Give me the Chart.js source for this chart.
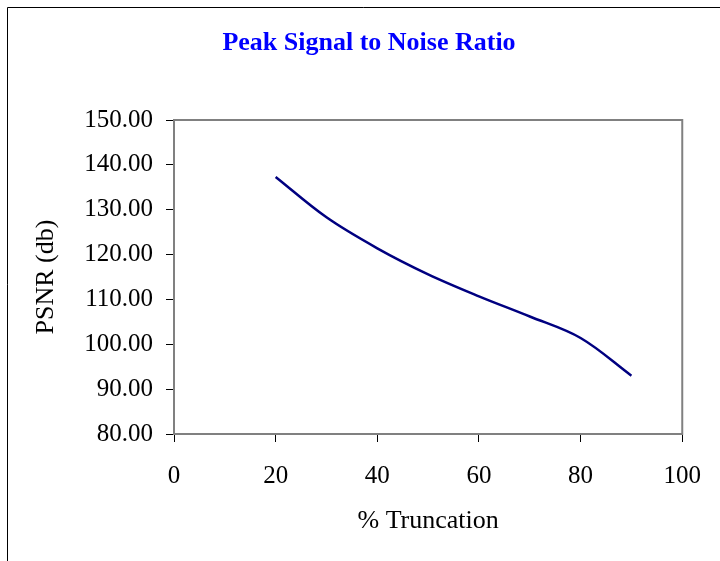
<!DOCTYPE html>
<html>
<head>
<meta charset="utf-8">
<title>Peak Signal to Noise Ratio</title>
<script src="https://cdn.jsdelivr.net/npm/chart.js@4"></script>
<style>
  html, body { margin: 0; padding: 0; background: #fff; }
  #wrap { position: relative; width: 720px; height: 561px; }
</style>
</head>
<body>
<div id="wrap"><canvas id="psnrChart" width="720" height="561"></canvas></div>
<script>
// truncation percentages and the measured PSNR at each
const truncation = [20, 30, 40, 50, 60, 70, 80, 90];
const psnr = [137.3, 128.3, 121.4, 115.6, 110.7, 106.2, 101.4, 93.0];

const xTicks = [0, 20, 40, 60, 80, 100];
const yTicks = [80, 90, 100, 110, 120, 130, 140, 150];

const serif = '"Liberation Serif", "Times New Roman", serif';

// outer frame, grey plot border and the blue heading
const decorations = {
    id: 'decorations',
    beforeDraw(chart) {
        const ctx = chart.ctx;
        ctx.save();
        ctx.strokeStyle = '#000';
        ctx.lineWidth = 1;
        ctx.beginPath();
        ctx.moveTo(7.5, 561);
        ctx.lineTo(7.5, 7.5);
        ctx.lineTo(720, 7.5);
        ctx.stroke();
        ctx.restore();
    },
    beforeDatasetsDraw(chart) {
        const {ctx, chartArea: a} = chart;
        ctx.save();
        ctx.strokeStyle = '#808080';
        ctx.lineWidth = 2;
        ctx.strokeRect(a.left, a.top, a.right - a.left, a.bottom - a.top);
        ctx.restore();
    },
    afterDraw(chart) {
        const ctx = chart.ctx;
        ctx.save();
        ctx.font = 'bold 26px ' + serif;
        ctx.fillStyle = '#0000FF';
        ctx.textAlign = 'center';
        ctx.textBaseline = 'alphabetic';
        ctx.fillText('Peak Signal to Noise Ratio', 369, 50);
        ctx.restore();
    }
};

const ctx = document.getElementById('psnrChart').getContext('2d');
new Chart(ctx, {
    type: 'line',
    data: {
        datasets: [{
            label: 'PSNR',
            data: truncation.map((t, i) => ({x: t, y: psnr[i]})),
            borderColor: '#000080',
            borderWidth: 2.5,
            pointRadius: 0,
            fill: false,
            tension: 0.35
        }]
    },
    options: {
        responsive: false,
        animation: false,
        layout: {
            padding: {left: 0, right: 36, top: 120, bottom: 0}
        },
        plugins: {
            legend: {display: false},
            tooltip: {enabled: false},
            title: {display: false}
        },
        scales: {
            x: {
                type: 'linear',
                min: 0,
                max: 100,
                afterBuildTicks: (scale) => { scale.ticks = xTicks.map(v => ({value: v})); },
                afterFit: (scale) => { scale.height = 127; },
                ticks: {
                    color: '#000',
                    padding: 19,
                    maxRotation: 0,
                    font: {family: serif, size: 25}
                },
                grid: {
                    display: true,
                    drawOnChartArea: false,
                    drawTicks: true,
                    tickLength: 8,
                    color: '#000',
                    lineWidth: 1
                },
                border: {display: true, color: '#000', width: 1},
                title: {
                    display: true,
                    text: '% Truncation',
                    color: '#000',
                    font: {family: serif, size: 26},
                    padding: {top: 0, bottom: 24}
                }
            },
            y: {
                type: 'linear',
                min: 80,
                max: 150,
                afterBuildTicks: (scale) => { scale.ticks = yTicks.map(v => ({value: v})); },
                afterFit: (scale) => { scale.width = 174; },
                ticks: {
                    color: '#000',
                    padding: 13,
                    font: {family: serif, size: 25},
                    callback: (v) => Number(v).toFixed(2)
                },
                grid: {
                    display: true,
                    drawOnChartArea: false,
                    drawTicks: true,
                    tickLength: 8,
                    color: '#000',
                    lineWidth: 1
                },
                border: {display: true, color: '#000', width: 1},
                title: {
                    display: true,
                    text: 'PSNR (db)',
                    color: '#000',
                    font: {family: serif, size: 26},
                    padding: {top: 31, bottom: 0}
                }
            }
        }
    },
    plugins: [decorations]
});
</script>
</body>
</html>
